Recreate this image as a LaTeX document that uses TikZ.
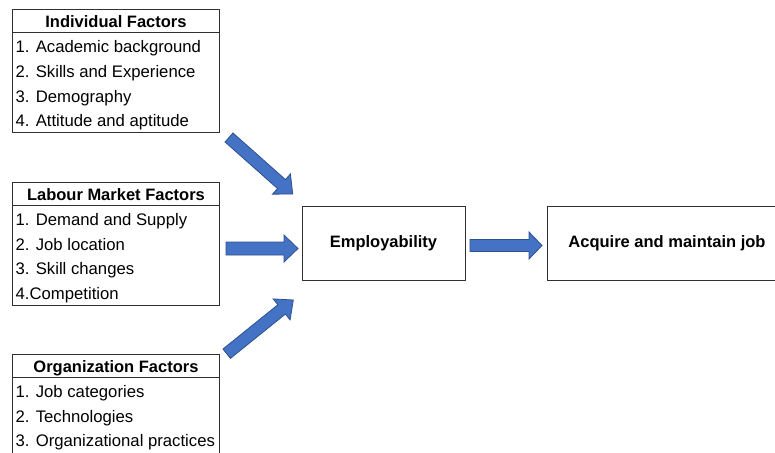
\documentclass[tikz,border=0pt]{standalone}
\usepackage{fontspec}
\setmainfont{Liberation Sans}
\usetikzlibrary{calc}
\definecolor{arrowfill}{HTML}{4472C4}
\definecolor{arrowline}{HTML}{2F528F}
\definecolor{boxline}{HTML}{303030}

% Block arrow: tail, tip, shaft half width, head half width, head length
\newcommand{\blockarrow}[5]{%
  \path (#1) coordinate (bt) (#2) coordinate (bp);
  \path ($(bp)!#5!(bt)$) coordinate (bn);
  \filldraw[blk] ($(bt)!#3!90:(bp)$) -- ($(bn)!#3!90:(bp)$) -- ($(bn)!#4!90:(bp)$)
    -- (bp) -- ($(bn)!#4!-90:(bp)$) -- ($(bn)!#3!-90:(bp)$) -- ($(bt)!#3!-90:(bp)$) -- cycle;
}

\begin{document}
\begin{tikzpicture}[x=1pt,y=-1pt,
  box/.style={draw=boxline, line width=0.9pt, inner sep=0pt},
  factorbox/.style={box, minimum width=207pt, minimum height=123pt, anchor=north west},
  hdr/.style={font=\fontsize{16.5}{19}\selectfont\bfseries, anchor=base, inner sep=0pt},
  item/.style={font=\fontsize{16.7}{19}\selectfont, anchor=base west, inner sep=0pt},
  mainbox/.style={box, minimum height=74pt, font=\fontsize{16.5}{19}\selectfont\bfseries},
  blk/.style={fill=arrowfill, draw=arrowline, line width=0.8pt, line join=miter}]
\useasboundingbox (0,0) rectangle (775,452);

% Factor boxes: header, separator line, numbered items
\foreach \nm/\top/\head/\items in {
  ind/9.3/Individual Factors/{1. Academic background,2. Skills and Experience,3. Demography,4. Attitude and aptitude},
  lab/182/Labour Market Factors/{1. Demand and Supply,2. Job location,3. Skill changes,4.Competition},
  org/354/Organization Factors/{1. Job categories,2. Technologies,3. Organizational practices}} {
  \node[factorbox] (\nm) at (12,\top) {};
  \draw[boxline, line width=0.9pt] ($(\nm.north west)+(0,23.5)$) -- ($(\nm.north east)+(0,23.5)$);
  \node[hdr] (\nm-head) at ($(\nm.north)+(0,18.5)$) {\head};
  \foreach \it [count=\k] in \items {
    \node[item] (\nm-\k) at ($(\nm.north west)+(3.5,43.5+24.7*\k-24.7)$) {\it};
  }
}

% Central boxes
\node[mainbox, minimum width=163pt] (emp) at (383.5,243) {Employability};
\node[mainbox, minimum width=240pt] (job) at (667,243) {Acquire and maintain job};

% Block arrows
\coordinate (a1t) at (229,137.5);  \coordinate (a1p) at (292.7,194);
\coordinate (a2t) at (226,248.5);  \coordinate (a2p) at (298,248.5);
\coordinate (a3t) at (226.7,353.7); \coordinate (a3p) at (293.3,300);
\coordinate (a4t) at (470,245.5);  \coordinate (a4p) at (542,245.5);
\blockarrow{a1t}{a1p}{6pt}{13.5pt}{15pt}
\blockarrow{a2t}{a2p}{6.5pt}{13.5pt}{14pt}
\blockarrow{a3t}{a3p}{6pt}{13.5pt}{15pt}
\blockarrow{a4t}{a4p}{6pt}{13.5pt}{13pt}
\end{tikzpicture}
\end{document}
